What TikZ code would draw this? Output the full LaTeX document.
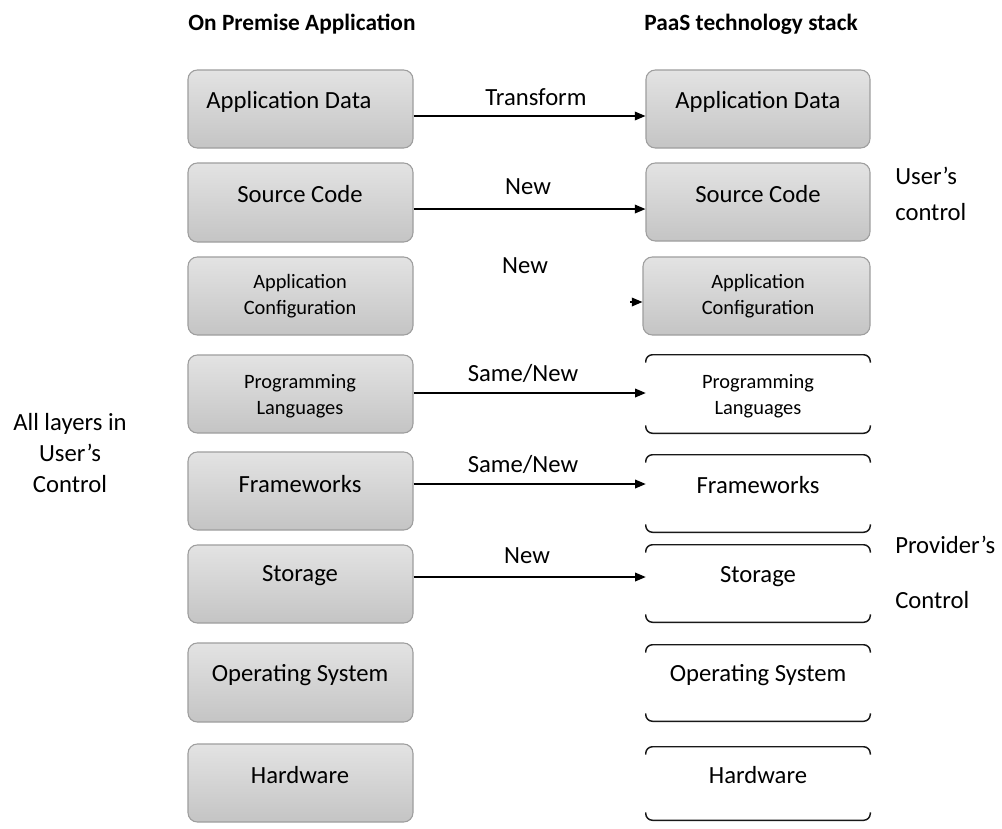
\documentclass[tikz,border=0pt]{standalone}
\usepackage{fontspec}
\setmainfont{Carlito}
\usetikzlibrary{arrows.meta,fit}
\newcommand\whiteedges[1]{%
  \draw[wline] ([yshift=-6pt]#1.north west) -- (#1.north west) -- (#1.north east) -- ([yshift=-6pt]#1.north east);
  \draw[wline] ([yshift=6pt]#1.south west) -- (#1.south west) -- (#1.south east) -- ([yshift=6pt]#1.south east);}
\begin{document}
\begin{tikzpicture}[x=0.75pt,y=-0.75pt,
  gbox/.style={draw=black!38, line width=0.8pt, rounded corners=7pt, top color=black!11, bottom color=black!23, inner sep=0pt},
  wbox/.style={inner sep=0pt},
  wline/.style={line width=1.1pt, rounded corners=5pt, draw=black!90},
  txt/.style={font=\fontsize{18.5}{20}\selectfont, text=black, inner sep=0pt},
  stxt/.style={font=\fontsize{15.3}{19.5}\selectfont, align=center, text=black, inner sep=0pt},
  head/.style={font=\bfseries\fontsize{17.5}{19}\selectfont, text=black, inner sep=0pt},
  lbl/.style={font=\fontsize{18.5}{20}\selectfont, text=black, inner sep=0pt},
  side/.style={font=\fontsize{18.5}{27}\selectfont, text=black, inner sep=0pt},
  arr/.style={line width=1.1pt, -{Triangle[length=8pt,width=6.5pt]}}
]
\useasboundingbox[fill=white] (0,0) rectangle (1002,828);

% headings
\node[head] (h1) at (302,24) {On Premise Application};
\node[head] (h2) at (751,24) {PaaS technology stack};

% left stack
\node[gbox, fit={(188,70)(413,148)}] (L1) {};
\node[gbox, fit={(188,163)(413,242)}] (L2) {};
\node[gbox, fit={(188,257)(413,335)}] (L3) {};
\node[gbox, fit={(188,355)(413,433)}] (L4) {};
\node[gbox, fit={(188,452)(413,530)}] (L5) {};
\node[gbox, fit={(188,545)(413,623)}] (L6) {};
\node[gbox, fit={(188,643)(413,722)}] (L7) {};
\node[gbox, fit={(188,744)(413,822)}] (L8) {};

\node[txt] (tL1) at (289,102) {Application Data};
\node[txt] (tL2) at (300,194) {Source Code};
\node[stxt] (tL3) at (300,296) {Application\\Configuration};
\node[stxt] (tL4) at (300,396) {Programming\\Languages};
\node[txt] (tL5) at (300,484) {Frameworks};
\node[txt] (tL6) at (300,576) {Storage};
\node[txt] (tL7) at (300,675) {Operating System};
\node[txt] (tL8) at (300,775) {Hardware};

% right stack
\node[gbox, fit={(646,70)(870,148)}] (R1) {};
\node[gbox, fit={(646,163)(870,241)}] (R2) {};
\node[gbox, fit={(643,257)(870,335)}] (R3) {};
\node[wbox, fit={(646,355)(870,433)}] (R4) {};
\node[wbox, fit={(646,455)(870,532)}] (R5) {};
\node[wbox, fit={(646,545)(870,622)}] (R6) {};
\node[wbox, fit={(646,645)(870,721)}] (R7) {};
\node[wbox, fit={(646,747)(870,820)}] (R8) {};
\whiteedges{R4}
\whiteedges{R5}
\whiteedges{R6}
\whiteedges{R7}
\whiteedges{R8}

\node[txt] (tR1) at (758,102) {Application Data};
\node[txt] (tR2) at (758,194) {Source Code};
\node[stxt] (tR3) at (758,296) {Application\\Configuration};
\node[stxt] (tR4) at (758,396) {Programming\\Languages};
\node[txt] (tR5) at (758,485) {Frameworks};
\node[txt] (tR6) at (758,577) {Storage};
\node[txt] (tR7) at (758,675) {Operating System};
\node[txt] (tR8) at (758,775) {Hardware};

% arrows
\draw[arr] ([yshift=-5.25pt]L1.east) -- ([yshift=-5.25pt]L1.east -| R1.west);
\draw[arr] ([yshift=-4.9pt]L2.east) -- ([yshift=-4.9pt]L2.east -| R2.west);
\coordinate (c3) at (630,302);
\draw[arr] (c3) -- (c3 -| R3.west);
\draw[arr] ([yshift=0.75pt]L4.east) -- ([yshift=0.75pt]L4.east -| R4.west);
\draw[arr] ([yshift=5.25pt]L5.east) -- ([yshift=5.25pt]L5.east -| R5.west);
\draw[arr] ([yshift=5.25pt]L6.east) -- ([yshift=5.25pt]L6.east -| R6.west);

% arrow labels
\node[lbl] (a1) at (536,97) {Transform};
\node[lbl] (a2) at (528,187) {New};
\node[lbl] (a3) at (525,266) {New};
\node[lbl] (a4) at (523,373) {Same/New};
\node[lbl] (a5) at (523,464) {Same/New};
\node[lbl] (a6) at (527,556) {New};

% side labels
\node[side, align=left, anchor=west] (uc) at (895,194) {User's\\control};
\node[side, anchor=west] (pc1) at (895,545) {Provider's};
\node[side, anchor=west] (pc2) at (895,600) {Control};
\node[font=\fontsize{18.5}{20}\selectfont, align=center, text=black, inner sep=0pt] (all) at (70,453) {All layers in\\[3pt]User's\\[3pt]Control};
\end{tikzpicture}
\end{document}
